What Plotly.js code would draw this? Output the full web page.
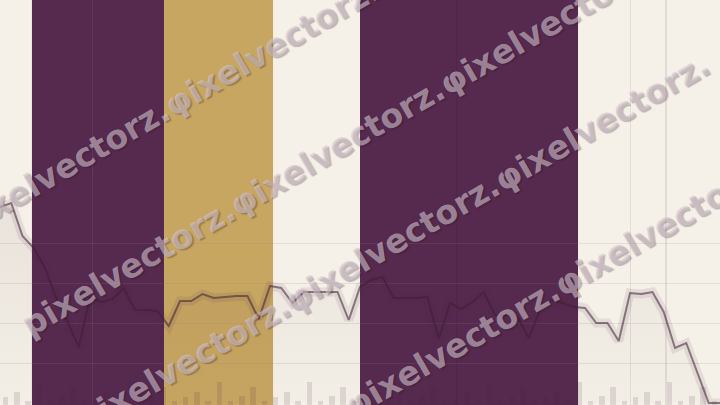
<!DOCTYPE html>
<html>
<head>
<meta charset="utf-8">
<script src="https://cdn.plot.ly/plotly-3.0.1.min.js"></script>
<style>html,body{margin:0;padding:0;background:#f5f1e8;}#chart{width:720px;height:405px;}</style>
</head>
<body>
<div id="chart"></div>
<script>
// ---- data ----
const steps = [0,1,2,3,4,5,6,7,8,9,10,11,12,13,14,15,16,17,18,19,20,21,22,23,24,25,26,27,28,29,30,31,32,33,34,35,36,37,38,39,40,41,42,43,44,45,46,47,48,49,50,51,52,53,54,55,56,57,58,59,60,61,62,63,64];
const price = [98,100,83.5,77.5,67.5,52.5,40.5,28,52.5,50.5,52,57.5,46.5,46.5,46,38.5,51,51,54.5,52.5,53,53.5,53.5,42,58.5,57.5,50,55.5,55.5,55.5,55.5,41.5,58,61.5,63,52.5,52.5,52.5,53,32,50,47,50.5,55.5,44,44,43,32.5,46.5,51.5,50,48,47.5,40,40,31,55,54.5,55.5,45.5,27.5,30,15,0,0];
const barSteps = [0.5,1.5,2.5,3.5,4.5,5.5,6.5,7.5,8.5,9.5,10.5,11.5,12.5,13.5,14.5,15.5,16.5,17.5,18.5,19.5,20.5,21.5,22.5,23.5,24.5,25.5,26.5,27.5,28.5,29.5,30.5,31.5,32.5,33.5,34.5,35.5,36.5,37.5,38.5,39.5,40.5,41.5,42.5,43.5,44.5,45.5,46.5,47.5,48.5,49.5,50.5,51.5,52.5,53.5,54.5,55.5,56.5,57.5,58.5,59.5,60.5,61.5,62.5,63.5];
const volume = [20,32,10,57,10,22,44,10, 20,32,10,57,10,22,44,10, 20,32,10,57,10,22,44,10, 20,32,10,57,10,22,44,10, 20,32,10,57,10,22,44,10, 20,32,10,57,10,22,44,10, 20,32,10,57,10,22,44,10, 20,32,10,57,10,22,44,10];
const bandStart = [2.84, 14.58, 32];
const bandEnd = [14.58, 24.27, 51.38];
const bandKind = ['purple', 'gold', 'purple'];
const markerSteps = [40.6, 59.2];
const watermarkText = 'pixelvectorz.φixelvectorz.φixelvectorz.';

// ---- styles ----
const bandColors = {purple: '#56294f', gold: '#c7a661'};
const gridCol = 'rgba(150,125,140,0.18)';

const traces = [
  {x: steps, y: price, type: 'scatter', mode: 'lines', fill: 'tozeroy',
   fillgradient: {type: 'vertical', colorscale: [[0, 'rgba(80,40,70,0.015)'], [1, 'rgba(80,40,70,0.07)']]},
   line: {color: 'rgba(80,40,70,0.10)', width: 9}, hoverinfo: 'skip', showlegend: false},
  {x: steps, y: price, type: 'scatter', mode: 'lines',
   line: {color: 'rgba(62,30,52,0.55)', width: 2}, showlegend: false},
  {x: barSteps, y: volume, type: 'bar', yaxis: 'y2', width: 0.47,
   marker: {color: 'rgba(80,40,70,0.13)', line: {width: 0}}, showlegend: false}
];

const shapes = [];
for (let i = 0; i < bandStart.length; i++) {
  shapes.push({type: 'rect', xref: 'x', yref: 'paper', x0: bandStart[i], x1: bandEnd[i], y0: 0, y1: 1,
    fillcolor: bandColors[bandKind[i]], line: {width: 0}, layer: 'below'});
}
markerSteps.forEach(m => shapes.push({type: 'line', xref: 'x', yref: 'paper', x0: m, x1: m, y0: 0, y1: 1,
  line: {color: 'rgba(60,30,50,0.2)', width: 1}, layer: 'above'}));

const wmCenters = [[0.379, 0.884], [0.469, 0.639], [0.546, 0.402], [0.629, 0.143]];
const annotations = wmCenters.map(c => ({
  text: watermarkText, xref: 'paper', yref: 'paper', x: c[0], y: c[1],
  xanchor: 'center', yanchor: 'middle', showarrow: false, textangle: -30,
  font: {family: 'DejaVu Sans', size: 33, weight: 'bold', color: 'rgba(210,195,205,0.62)',
         shadow: '1px 2px 1px rgba(40,20,35,0.45)'}
}));

const layout = {
  width: 720, height: 405,
  margin: {l: 0, r: 0, t: 0, b: 0, pad: 0},
  paper_bgcolor: '#f5f1e8', plot_bgcolor: '#f5f1e8',
  showlegend: false, bargap: 0,
  xaxis: {range: [0, 64], tickvals: [8.2, 56], showticklabels: false, ticks: '', zeroline: false,
          showline: false, showgrid: true, gridcolor: gridCol, gridwidth: 1, fixedrange: true},
  yaxis: {range: [-1, 201.5], tickvals: [20, 40, 60, 80], showticklabels: false, ticks: '', zeroline: false,
          showline: false, showgrid: true, gridcolor: gridCol, gridwidth: 1, fixedrange: true},
  yaxis2: {range: [0, 1000], overlaying: 'y', visible: false, showgrid: false, zeroline: false, fixedrange: true},
  shapes: shapes,
  annotations: annotations
};

Plotly.newPlot('chart', traces, layout, {staticPlot: true, displayModeBar: false});
</script>
</body>
</html>
